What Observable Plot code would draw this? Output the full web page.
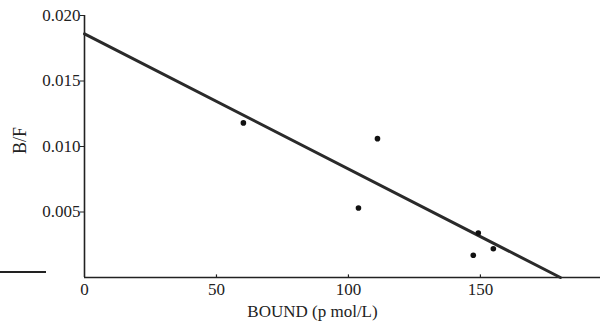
<!DOCTYPE html>
<html>
<head>
<meta charset="utf-8">
<script src="https://cdn.jsdelivr.net/npm/d3@7"></script>
<script src="https://cdn.jsdelivr.net/npm/@observablehq/plot@0.6"></script>
<style>
  html, body { margin: 0; padding: 0; background: #fff; }
  #wrap { position: relative; width: 605px; height: 328px; }
  #stray { position: absolute; left: 0; top: 271px; width: 46px; height: 1.5px; background: #222; }
</style>
</head>
<body>
<div id="wrap"><div id="stray"></div></div>
<script>
// Scatchard plot data
const boundValues = [60.2, 111, 103.8, 149.2, 154.9, 147.3];
const bfValues = [0.0118, 0.0106, 0.0053, 0.0034, 0.0022, 0.0017];
const fitBound = [0, 180.3];
const fitBF = [0.0186, 0];
const xTicks = [0, 50, 100, 150];
const yTicks = [0.005, 0.010, 0.015, 0.020];
const xLabel = "BOUND (p mol/L)";
const yLabel = "B/F";

const points = boundValues.map((b, i) => ({x: b, y: bfValues[i]}));
const fit = fitBound.map((b, i) => ({x: b, y: fitBF[i]}));

const chart = Plot.plot({
  width: 605,
  height: 328,
  marginLeft: 84,
  marginRight: 5,
  marginTop: 15,
  marginBottom: 51,
  style: {fontFamily: "'Liberation Serif', 'DejaVu Serif', serif", fontSize: "17px", color: "#222", background: "transparent"},
  x: {domain: [0, 195.5]},
  y: {domain: [0, 0.020]},
  marks: [
    Plot.axisY({ticks: yTicks, tickSize: 4, tickPadding: 0, tickFormat: d3.format(".3f"), label: null, fontSize: 17}),
    Plot.axisX({ticks: xTicks, tickSize: 0, tickPadding: 5, label: null, fontSize: 17}),
    Plot.ruleY([0], {stroke: "#222", strokeWidth: 1.6}),
    Plot.ruleX([0], {y1: 0, y2: yTicks[yTicks.length - 1], stroke: "#222", strokeWidth: 1.6}),
    Plot.ruleX(xTicks.slice(1), {y1: 0, y2: 0.0002, stroke: "#222", strokeWidth: 1.2}),
    Plot.line(fit, {x: "x", y: "y", stroke: "#2a2a2a", strokeWidth: 3}),
    Plot.dot(points, {x: "x", y: "y", r: 2.8, fill: "#111", stroke: "none"}),
    Plot.text([yLabel], {frameAnchor: "left", textAnchor: "middle", lineAnchor: "middle", dx: -64, dy: -6, rotate: -90, text: d => d, fontSize: 18, fill: "#222"}),
    Plot.text([xLabel], {frameAnchor: "bottom", textAnchor: "middle", lineAnchor: "middle", dx: -30, dy: 34, text: d => d, fontSize: 17, fill: "#222"})
  ]
});
document.getElementById("wrap").appendChild(chart);
chart.style.position = "absolute";
chart.style.left = "0";
chart.style.top = "0";
</script>
</body>
</html>
